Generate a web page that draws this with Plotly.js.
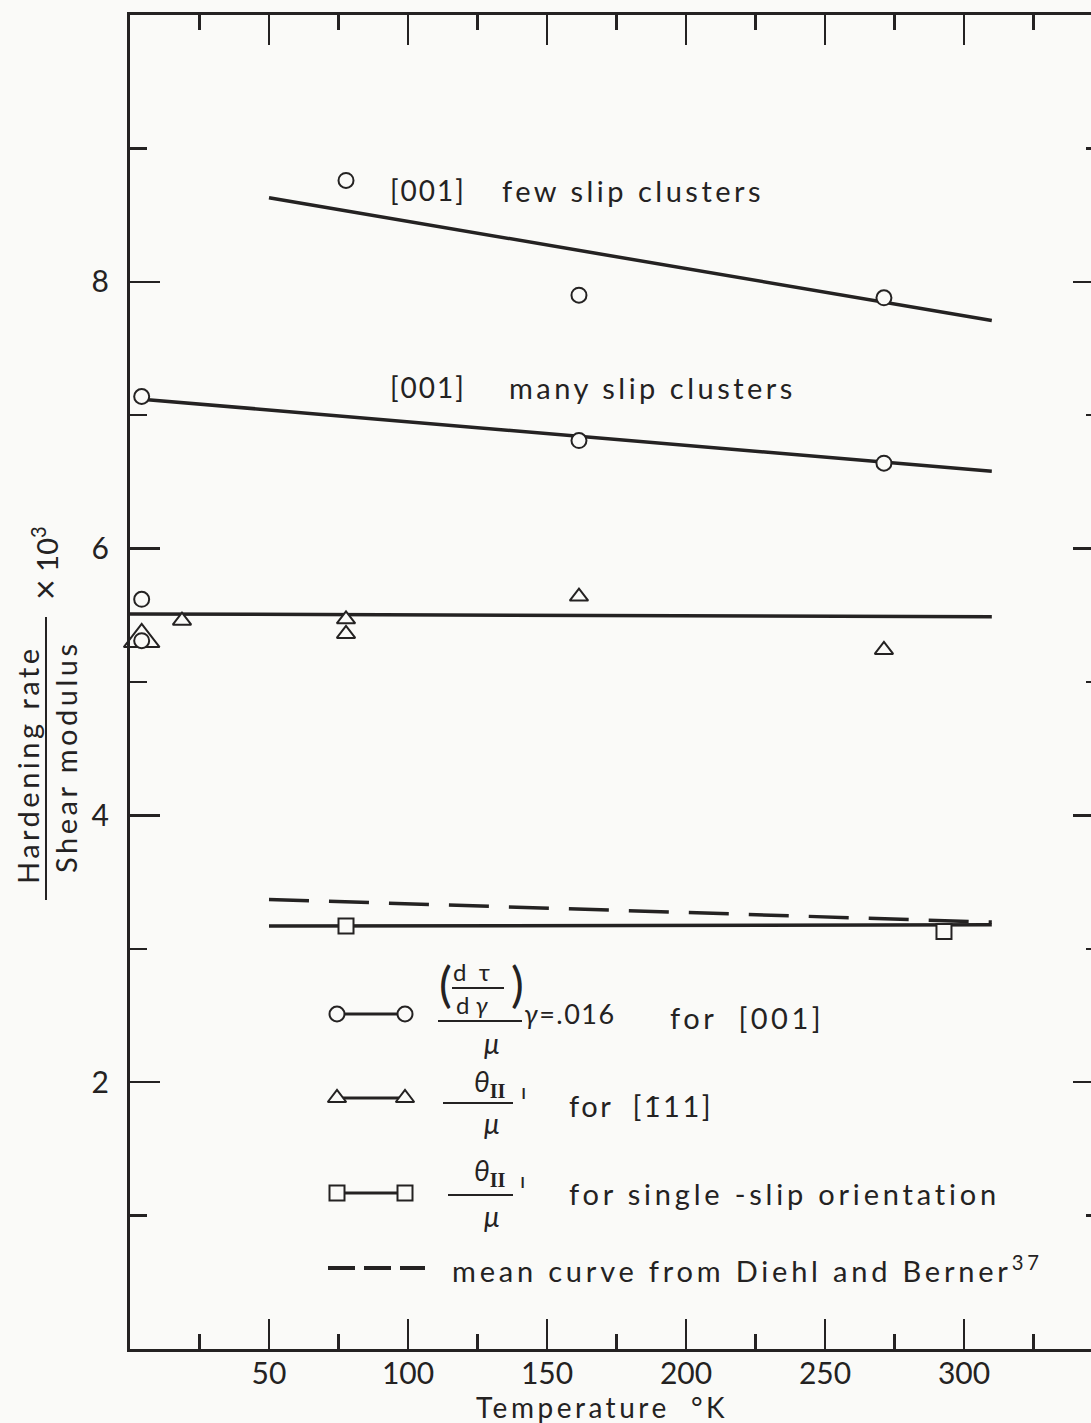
<!DOCTYPE html>
<html>
<head>
<meta charset="utf-8">
<script src="https://cdn.plot.ly/plotly-3.0.1.min.js"></script>
<style>
  html, body { margin: 0; padding: 0; overflow: hidden; background: #fafaf8; }
  #plot { width: 1110px; height: 1423px; }
</style>
</head>
<body>
<div id="plot"></div>
<script>
// Hardening rate / shear modulus (x 10^3) against temperature (K)

// [001], few slip clusters
const fewTemp = [77.7, 161.5, 271.2];
const fewRate = [8.76, 7.90, 7.88];
const fewFitTemp = [50, 310];
const fewFitRate = [8.63, 7.71];

// [001], many slip clusters
const manyTemp = [4.2, 161.5, 271.2];
const manyRate = [7.14, 6.81, 6.64];
const manyFitTemp = [4.2, 310];
const manyFitRate = [7.12, 6.58];

// further [001] points at 4.2 K
const lowCircleTemp = [4.2, 4.2];
const lowCircleRate = [5.62, 5.31];

// [-111] orientation, theta_II / mu
const triTemp = [18.7, 77.7, 77.7, 161.5, 271.2];
const triRate = [5.46, 5.47, 5.36, 5.64, 5.24];
const bigTriTemp = [4.2];
const bigTriRate = [5.32];
const triFitTemp = [0, 310];
const triFitRate = [5.51, 5.49];

// single-slip orientation, theta_II / mu
const sqTemp = [77.7, 292.8];
const sqRate = [3.17, 3.13];
const sqFitTemp = [50, 310];
const sqFitRate = [3.17, 3.18];

// mean curve from Diehl and Berner
const dbTemp = [50, 310];
const dbRate = [3.37, 3.20];

// axis ticks
const xTickVals = [50, 100, 150, 200, 250, 300];
const xTickText = ['50', '100', '150', '200', '250', '300'];
const yTickVals = [2, 4, 6, 8];
const yTickText = ['2', '4', '6', '8'];

const INK = '#242222';
const BG = '#fafaf8';
const FONT = 'Lato, "Open Sans", sans-serif';

const fitLine = (x, y, dash) => ({
  x, y, type: 'scatter', mode: 'lines', xaxis: 'x', yaxis: 'y',
  line: { color: INK, width: 3.5, dash: dash || 'solid' },
  hoverinfo: 'skip', showlegend: false, cliponaxis: false
});
const pts = (x, y, symbol, size) => ({
  x, y, type: 'scatter', mode: 'markers', xaxis: 'x', yaxis: 'y',
  marker: { symbol, size, color: BG, line: { color: INK, width: 2 } },
  showlegend: false, cliponaxis: false
});

const traces = [
  fitLine(fewFitTemp, fewFitRate),
  fitLine(manyFitTemp, manyFitRate),
  fitLine(triFitTemp, triFitRate),
  fitLine(sqFitTemp, sqFitRate),
  fitLine(dbTemp, dbRate, '40px,20px'),
  pts(fewTemp, fewRate, 'circle', 15),
  pts(manyTemp, manyRate, 'circle', 15),
  pts(bigTriTemp, bigTriRate, 'triangle-up', 31),
  pts(lowCircleTemp, lowCircleRate, 'circle', 15),
  pts(triTemp, triRate, 'triangle-up', 16),
  pts(sqTemp, sqRate, 'square', 15)
];

// ---- key (drawn on a pixel-scaled overlay axis pair) ----
const keyRows = [
  { y: 1014, symbol: 'circle', size: 15 },
  { y: 1098, symbol: 'triangle-up', size: 16 },
  { y: 1193, symbol: 'square', size: 15 }
];
const keyX = [337, 405];
keyRows.forEach(r => {
  traces.push({
    x: keyX, y: [r.y, r.y], xaxis: 'x2', yaxis: 'y2', type: 'scatter', mode: 'lines+markers',
    line: { color: INK, width: 3 },
    marker: { symbol: r.symbol, size: r.size, color: BG, line: { color: INK, width: 2 } },
    showlegend: false, hoverinfo: 'skip', cliponaxis: false
  });
});
traces.push({
  x: [328, 425], y: [1268, 1268], xaxis: 'x2', yaxis: 'y2', type: 'scatter', mode: 'lines',
  line: { color: INK, width: 4, dash: '27px,9px' }, showlegend: false, hoverinfo: 'skip'
});

// plot area spans pixels x 130..1103, y 15..1349
const PX0 = 130, PX1 = 1103, PY0 = 15, PY1 = 1349;
const pxX = v => (v - PX0) / (PX1 - PX0);
const pxY = v => (PY1 - v) / (PY1 - PY0);

function note(text, x, y, size, opts, ls) {
  const body = ls ? '<span style="letter-spacing:' + ls + 'px">' + text + '</span>' : text;
  return Object.assign({
    text: body, x, y, xref: 'x2', yref: 'y2', showarrow: false,
    xanchor: 'left', yanchor: 'middle',
    font: { family: FONT, size, color: INK }
  }, opts || {});
}
// same, placed outside the plotting area (paper coordinates)
function noteOut(text, x, y, size, opts, ls) {
  const a = note(text, 0, 0, size, opts, ls);
  a.xref = 'paper'; a.yref = 'paper';
  a.x = pxX(x); a.y = pxY(y);
  return a;
}

const theta = '<i>θ</i><span style="font-family:\'Liberation Serif\',serif;font-weight:bold;font-size:29px"><sub>II</sub></span>';
const LS = 3.5;

const annotations = [
  // curve labels
  note('[001]', 388, 190, 28, {}, 2),
  note('few slip clusters', 500, 190, 29, {}, LS),
  note('[001]', 388, 387, 28, {}, 2),
  note('many slip clusters', 507, 387, 29, {}, LS),

  // key row 1
  note('d  τ', 471, 971, 24, { xanchor: 'center' }),
  note('d <i>γ</i>', 472, 1004, 24, { xanchor: 'center' }),
  note('(', 445, 983, 48, { xanchor: 'center' }),
  note(')', 517, 983, 48, { xanchor: 'center' }),
  note('<i>μ</i>', 492, 1043, 28, { xanchor: 'center' }),
  note('<i>γ</i>=.016', 522, 1013, 27, {}, 1.5),
  note('for  [001]', 668, 1017, 29, {}, LS),

  // key row 2
  note(theta, 490, 1083, 28, { xanchor: 'center' }),
  note('ı', 523, 1090, 22, { xanchor: 'center' }),
  note('<i>μ</i>', 492, 1123, 28, { xanchor: 'center' }),
  note('for  [1̄11]', 567, 1105, 29, {}, 2.5),

  // key row 3
  note(theta, 490, 1172, 28, { xanchor: 'center' }),
  note('ı', 522, 1179, 22, { xanchor: 'center' }),
  note('<i>μ</i>', 492, 1216, 28, { xanchor: 'center' }),
  note('for single -slip orientation', 567, 1193, 29, {}, 3.8),

  // key row 4
  note('mean curve from Diehl and Berner<sup>37</sup>', 450, 1269, 29, {}, 3.8),

  // axis titles
  noteOut('Temperature  °K', 602, 1407, 28, { xanchor: 'center' }, LS),
  noteOut('Hardening rate', 27, 765, 29, { xanchor: 'center', textangle: -90 }, LS),
  noteOut('Shear modulus', 66, 757, 29, { xanchor: 'center', textangle: -90 }, LS),
  noteOut('<span style="font-size:36px">×</span> 10<sup>3</sup>', 44, 563, 29, { xanchor: 'center', textangle: -90 })
];

const shapes = [
  // fraction bars
  { type: 'line', xref: 'x2', yref: 'y2', x0: 452, x1: 504, y0: 988, y1: 988, line: { color: INK, width: 2 } },
  { type: 'line', xref: 'x2', yref: 'y2', x0: 438, x1: 522, y0: 1021, y1: 1021, line: { color: INK, width: 2 } },
  { type: 'line', xref: 'x2', yref: 'y2', x0: 443, x1: 513, y0: 1103, y1: 1103, line: { color: INK, width: 2 } },
  { type: 'line', xref: 'x2', yref: 'y2', x0: 448, x1: 513, y0: 1195, y1: 1195, line: { color: INK, width: 2 } },
  // y title fraction bar
  { type: 'line', xref: 'paper', yref: 'paper', x0: pxX(46), x1: pxX(46), y0: pxY(900), y1: pxY(617), line: { color: INK, width: 2 } }
];

const axisCommon = {
  showline: true, linecolor: INK, linewidth: 3, mirror: 'ticks',
  ticks: 'inside', tickcolor: INK, tickwidth: 2.5, ticklen: 30,
  showgrid: false, zeroline: false, tickmode: 'array',
  tickfont: { family: FONT, size: 30, color: INK }, fixedrange: true
};

const layout = {
  width: 1110, height: 1423,
  margin: { l: PX0, r: 1110 - PX1, t: PY0, b: 1423 - PY1 },
  paper_bgcolor: BG, plot_bgcolor: BG,
  showlegend: false,
  xaxis: Object.assign({}, axisCommon, {
    range: [0, 350], tickvals: xTickVals, ticktext: xTickText, ticklabelstandoff: -4,
    minor: { tick0: 0, dtick: 25, ticks: 'inside', ticklen: 15, tickwidth: 2.5, tickcolor: INK, showgrid: false }
  }),
  yaxis: Object.assign({}, axisCommon, {
    range: [0, 10], tickvals: yTickVals, ticktext: yTickText, ticklabelstandoff: 12,
    minor: { tick0: 0, dtick: 1, ticks: 'inside', ticklen: 17, tickwidth: 2.5, tickcolor: INK, showgrid: false }
  }),
  xaxis2: { overlaying: 'x', range: [PX0, PX1], visible: false, fixedrange: true },
  yaxis2: { overlaying: 'y', range: [PY1, PY0], visible: false, fixedrange: true },
  annotations, shapes
};

Plotly.newPlot('plot', traces, layout, { staticPlot: true, displayModeBar: false });
</script>
</body>
</html>
